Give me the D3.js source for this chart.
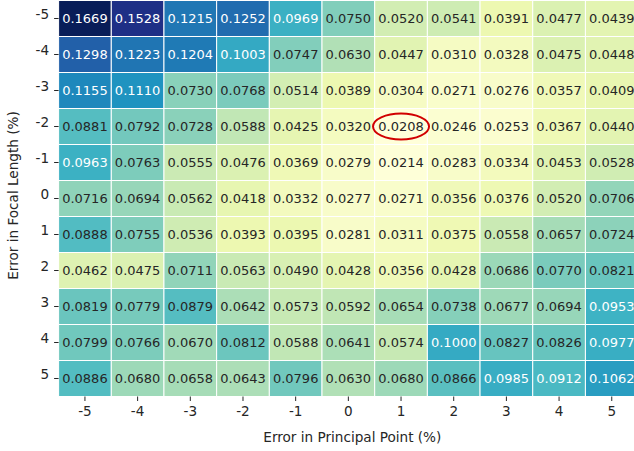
<!DOCTYPE html>
<html>
<head>
<meta charset="utf-8">
<script src="https://cdn.jsdelivr.net/npm/d3@7"></script>
<style>
  html, body { margin: 0; padding: 0; background: #fff; overflow: hidden; }
  svg { display: block; font-family: "DejaVu Sans", sans-serif; }
</style>
</head>
<body>
<div id="chart"></div>
<script>
// focal length error rows (top to bottom) and principal point error columns
var focalErrors = [-5, -4, -3, -2, -1, 0, 1, 2, 3, 4, 5];
var principalErrors = [-5, -4, -3, -2, -1, 0, 1, 2, 3, 4, 5];

var errorValues = [
  [0.1669, 0.1528, 0.1215, 0.1252, 0.0969, 0.0750, 0.0520, 0.0541, 0.0391, 0.0477, 0.0439],
  [0.1298, 0.1223, 0.1204, 0.1003, 0.0747, 0.0630, 0.0447, 0.0310, 0.0328, 0.0475, 0.0448],
  [0.1155, 0.1110, 0.0730, 0.0768, 0.0514, 0.0389, 0.0304, 0.0271, 0.0276, 0.0357, 0.0409],
  [0.0881, 0.0792, 0.0728, 0.0588, 0.0425, 0.0320, 0.0208, 0.0246, 0.0253, 0.0367, 0.0440],
  [0.0963, 0.0763, 0.0555, 0.0476, 0.0369, 0.0279, 0.0214, 0.0283, 0.0334, 0.0453, 0.0528],
  [0.0716, 0.0694, 0.0562, 0.0418, 0.0332, 0.0277, 0.0271, 0.0356, 0.0376, 0.0520, 0.0706],
  [0.0888, 0.0755, 0.0536, 0.0393, 0.0395, 0.0281, 0.0311, 0.0375, 0.0558, 0.0657, 0.0724],
  [0.0462, 0.0475, 0.0711, 0.0563, 0.0490, 0.0428, 0.0356, 0.0428, 0.0686, 0.0770, 0.0821],
  [0.0819, 0.0779, 0.0879, 0.0642, 0.0573, 0.0592, 0.0654, 0.0738, 0.0677, 0.0694, 0.0953],
  [0.0799, 0.0766, 0.0670, 0.0812, 0.0588, 0.0641, 0.0574, 0.1000, 0.0827, 0.0826, 0.0977],
  [0.0886, 0.0680, 0.0658, 0.0643, 0.0796, 0.0630, 0.0680, 0.0866, 0.0985, 0.0912, 0.1062]
];

// the cell that gets circled (the minimum)
var highlight = { focal: -2, principal: 1 };

function Heatmap (params) {
  var attrs = {
    container: 'body',
    width: 634,
    height: 451,
    margin: { top: 0.5, left: 58.6, right: -4.1, bottom: 54.5 },
    annotSize: 13,
    labelSize: 13.6
  };
  attrs = Object.assign(attrs, params);

  function main () {
    var chartWidth = attrs.width - attrs.margin.left - attrs.margin.right;
    var chartHeight = attrs.height - attrs.margin.top - attrs.margin.bottom;

    var cells = [];
    focalErrors.forEach(function (f, i) {
      principalErrors.forEach(function (p, j) {
        cells.push({ focal: f, principal: p, value: errorValues[i][j] });
      });
    });

    var x = d3.scaleBand().domain(principalErrors).range([0, chartWidth]);
    var y = d3.scaleBand().domain(focalErrors).range([0, chartHeight]);

    // matplotlib YlGnBu is a linear blend of the 9 brewer colours
    var allValues = cells.map(d => d.value);
    var stops = d3.schemeYlGnBu[9];
    var ext = d3.extent(allValues);
    var color = d3.scaleLinear()
      .domain(d3.range(stops.length).map(i => ext[0] + (ext[1] - ext[0]) * i / (stops.length - 1)))
      .range(stops)
      .interpolate(d3.interpolateRgb);

    function luminance (c) {
      var rgb = d3.rgb(c);
      var lin = [rgb.r, rgb.g, rgb.b].map(function (v) {
        v = v / 255;
        return v <= 0.03928 ? v / 12.92 : Math.pow((v + 0.055) / 1.055, 2.4);
      });
      return 0.2126 * lin[0] + 0.7152 * lin[1] + 0.0722 * lin[2];
    }

    var svg = d3.select(attrs.container).append('svg')
      .attr('width', attrs.width)
      .attr('height', attrs.height);

    var chart = svg.append('g')
      .attr('transform', `translate(${attrs.margin.left}, ${attrs.margin.top})`);

    chart.selectAll('rect.cell')
      .data(cells)
      .join('rect')
      .attr('class', 'cell')
      .attr('x', d => x(d.principal))
      .attr('y', d => y(d.focal))
      .attr('width', x.bandwidth())
      .attr('height', y.bandwidth())
      .attr('fill', d => color(d.value))
      .attr('stroke', '#fff')
      .attr('stroke-width', 1);

    chart.selectAll('text.annot')
      .data(cells)
      .join('text')
      .attr('class', 'annot')
      .attr('x', d => x(d.principal) + x.bandwidth() / 2)
      .attr('y', d => y(d.focal) + y.bandwidth() / 2)
      .attr('dy', '0.36em')
      .attr('text-anchor', 'middle')
      .attr('font-size', attrs.annotSize)
      .attr('fill', d => luminance(color(d.value)) > 0.408 ? '#262626' : '#fff')
      .text(d => d.value.toFixed(4));

    // red ring around the best cell
    chart.append('ellipse')
      .attr('cx', x(highlight.principal) + x.bandwidth() / 2)
      .attr('cy', y(highlight.focal) + y.bandwidth() / 2)
      .attr('rx', 28)
      .attr('ry', 13)
      .attr('fill', 'none')
      .attr('stroke', '#d10000')
      .attr('stroke-width', 2);

    // axes
    var xAxis = chart.append('g')
      .attr('transform', `translate(0, ${chartHeight})`)
      .call(d3.axisBottom(x).tickSize(4.5).tickPadding(5));
    var yAxis = chart.append('g')
      .call(d3.axisLeft(y).tickSize(4.5).tickPadding(5));

    [xAxis, yAxis].forEach(function (ax) {
      ax.select('.domain').remove();
      ax.selectAll('.tick line').attr('stroke', '#262626').attr('stroke-width', 1);
      ax.selectAll('.tick text')
        .attr('fill', '#262626')
        .attr('font-size', attrs.labelSize)
        .attr('font-family', '"DejaVu Sans", sans-serif');
    });
    yAxis.selectAll('.tick text').attr('dy', '0.0em');

    svg.append('text')
      .attr('x', attrs.margin.left + x(0) + x.bandwidth() / 2 + 4)
      .attr('y', 442)
      .attr('text-anchor', 'middle')
      .attr('font-size', attrs.labelSize)
      .attr('fill', '#262626')
      .text('Error in Principal Point (%)');

    svg.append('text')
      .attr('transform', `translate(18, ${attrs.margin.top + chartHeight / 2 - 3}) rotate(-90)`)
      .attr('text-anchor', 'middle')
      .attr('font-size', attrs.labelSize)
      .attr('fill', '#262626')
      .text('Error in Focal Length (%)');
  }

  main.render = function () {
    main();
    return main;
  };

  return main;
}

Heatmap({ container: '#chart' }).render();
</script>
</body>
</html>
